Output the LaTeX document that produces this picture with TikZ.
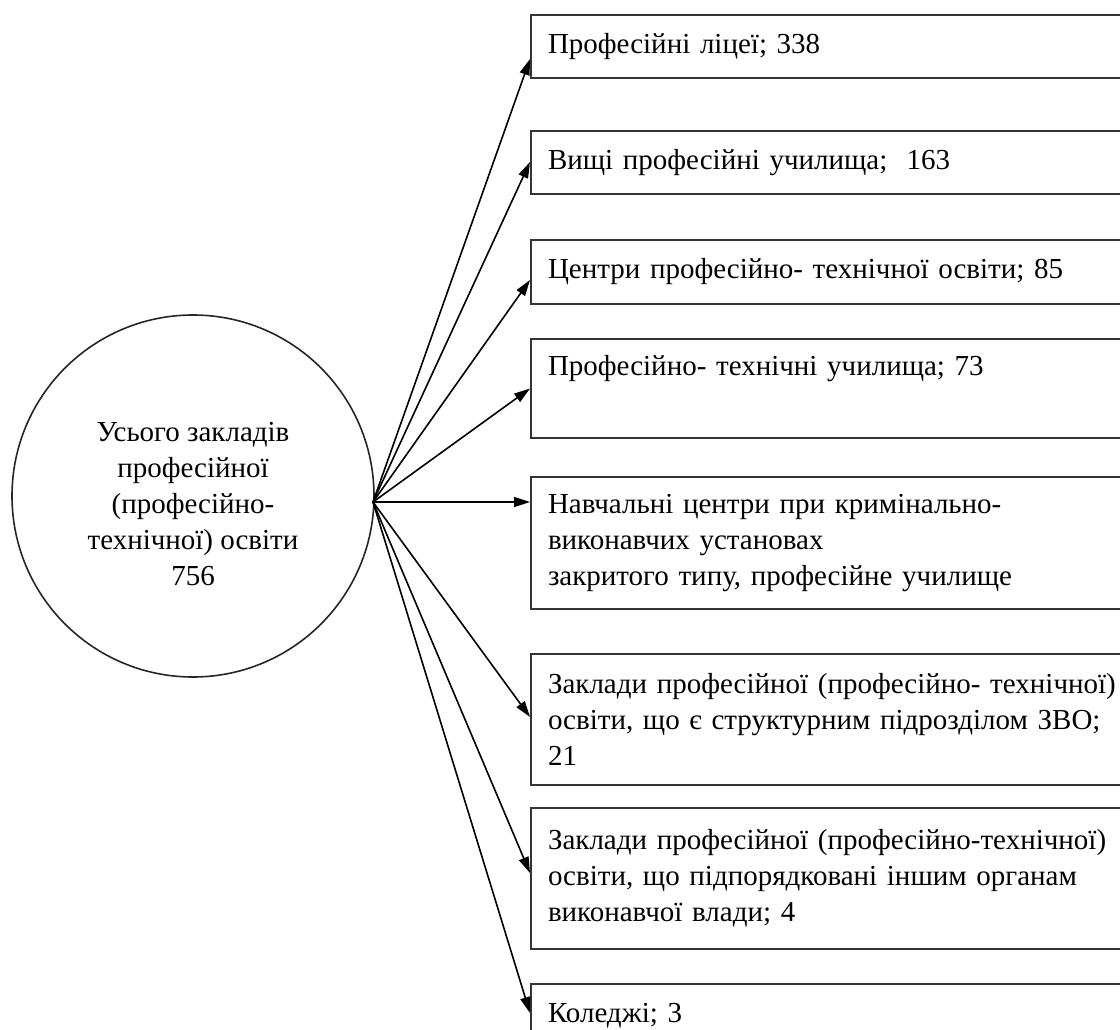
\documentclass[tikz,border=0pt]{standalone}
\usepackage{fontspec}
\setmainfont{Liberation Serif}
\usetikzlibrary{arrows.meta,calc}

\tikzset{
  kind/.style={draw=black!80, line width=2pt, rectangle, anchor=north west,
    align=left, text width=600pt, inner xsep=17pt, inner ysep=0pt},
  link/.style={line width=1.6pt, -{Triangle[length=16pt,width=10pt]}},
}

\begin{document}
\begin{tikzpicture}[x=1pt,y=-1pt,font={\fontsize{29}{36}\selectfont}]
    \clip (0,0) rectangle (1120,1030);
    \fill[white] (0,0) rectangle (1120,1030);

    % all institutions
    \node[draw=black!85, line width=1.6pt, circle, minimum size=362pt, inner sep=0pt] (total) at (193,496) {};
    \node[align=center] (totaltext) at (193,504) {Усього закладів\\професійної\\(професійно-\\технічної) освіти\\756};
    \coordinate (hub) at (373,502);

    % kinds of institutions
    \node[kind, minimum height=63pt] (b1) at (530,14) {Професійні ліцеї; 338};
    \node[kind, minimum height=63pt] (b2) at (530,130) {Вищі професійні училища;~ 163};
    \node[kind, minimum height=64pt] (b3) at (530,239) {Центри професійно- технічної освіти; 85};
    \node[kind, minimum height=99pt] (b4) at (530,338) {Професійно- технічні училища; 73\\\strut};
    \node[kind, minimum height=132pt] (b5) at (530,476) {Навчальні центри при кримінально-\\виконавчих установах\\закритого типу, професійне училище};
    \node[kind, minimum height=131pt] (b6) at (530,653) {Заклади професійної (професійно- технічної)\\освіти, що є структурним підрозділом ЗВО;\\21};
    \node[kind, minimum height=141pt] (b7) at (530,807) {Заклади професійної (професійно-технічної)\\освіти, що підпорядковані іншим органам\\виконавчої влади; 4};
    \node[kind, minimum height=63pt] (b8) at (530,983) {Коледжі; 3};

    \draw[link] (hub) -- ($(b1.north west)+(0,45)$);
    \draw[link] (hub) -- ($(b2.north west)+(0,32)$);
    \draw[link] (hub) -- ($(b3.north west)+(0,41)$);
    \draw[link] (hub) -- (b4.west);
    \draw[link] (hub) -- ($(b5.north west)+(0,26)$);
    \draw[link] (hub) -- ($(b6.north west)+(0,64)$);
    \draw[link] (hub) -- ($(b7.north west)+(0,66)$);
    \draw[link] (hub) -- ($(b8.north west)+(0,30)$);
\end{tikzpicture}
\end{document}
